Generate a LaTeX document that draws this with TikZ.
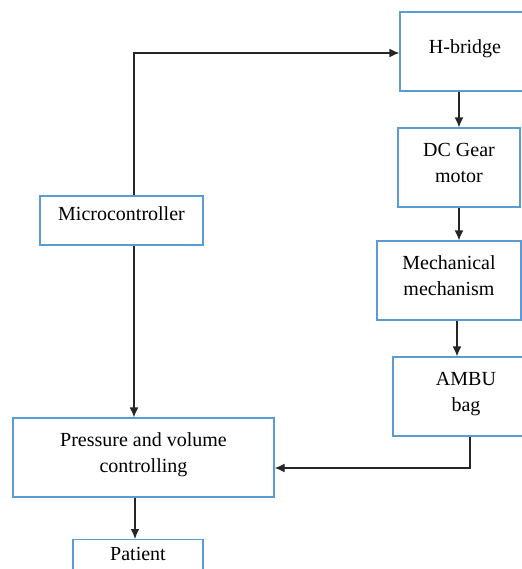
\documentclass[tikz,border=0pt]{standalone}
\usepackage{fontspec}
\setmainfont{Liberation Serif}
\usetikzlibrary{arrows.meta,positioning,calc}
\definecolor{boxblue}{RGB}{91,155,213}
\tikzset{
	box/.style={draw=boxblue, line width=0.6pt, align=center, font=\fontsize{10}{13}\selectfont, text depth=5pt, inner sep=2pt},
	flow/.style={-{Latex[length=5pt,width=4.4pt]}, line width=0.6pt, black!85}
}

\begin{document}
\begin{tikzpicture}[x=0.5pt, y=-0.5pt]
	\useasboundingbox (0,0) rectangle (521,569);
	% right column
	\node[box, minimum width=65pt, minimum height=39.5pt] (hbridge) at (465,51.5) {H-bridge};
	\node[box, minimum width=61pt, minimum height=39.5pt] (dcmotor) at (459,167.5) {DC Gear\\motor};
	\node[box, minimum width=72pt, minimum height=39.5pt] (mech) at (449,280.5) {Mechanical\\mechanism};
	\node[box, minimum width=73pt, minimum height=39.5pt] (ambu) at (466,396.5) {AMBU\\bag};
	% left column
	\node[box, minimum width=81.5pt, minimum height=24.5pt, text depth=7pt] (micro) at (121.5,220.5) {Microcontroller};
	\node[box, minimum width=130.5pt, minimum height=39.5pt] (pressure) at (143.5,457.5) {Pressure and volume\\controlling};
	\node[box, minimum width=65pt, minimum height=36pt, anchor=north] (patient) at (138,539) {Patient\\[4pt]};
	\draw[flow] ([xshift=6.25pt]micro.north) |- ([yshift=-0.75pt]hbridge.west);
	\draw[flow] ([xshift=6.25pt]micro.south) -- ([xshift=6.25pt]micro.south |- pressure.north);
	\draw[flow] ([xshift=-4.25pt]pressure.south) -- ([xshift=-4.25pt]pressure.south |- patient.north);
	\draw[flow] (dcmotor.north |- hbridge.south) -- (dcmotor.north);
	\draw[flow] (dcmotor.south) -- (dcmotor.south |- mech.north);
	\draw[flow] ([xshift=4pt]mech.south) -- ([xshift=4pt]mech.south |- ambu.north);
	\draw[flow] ([xshift=2pt]ambu.south) |- ([yshift=-5.25pt]pressure.east);
\end{tikzpicture}
\end{document}
